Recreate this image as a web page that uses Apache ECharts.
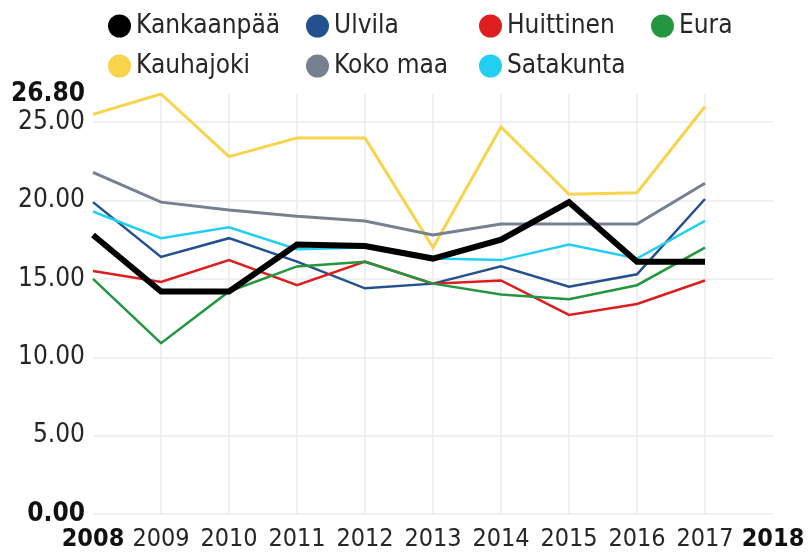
<!DOCTYPE html>
<html>
<head>
<meta charset="utf-8">
<script src="https://cdn.jsdelivr.net/npm/echarts@6/dist/echarts.min.js"></script>
<style>
  html, body { margin: 0; padding: 0; background: #fff; }
  #chart { width: 808px; height: 554px; }
</style>
</head>
<body>
<div id="chart"></div>
<script>
// Years on the horizontal axis
const years = [2008, 2009, 2010, 2011, 2012, 2013, 2014, 2015, 2016, 2017];

// Values per area
const kankaanpaa = [17.8, 14.2, 14.2, 17.2, 17.1, 16.3, 17.5, 19.9, 16.1, 16.1];
const ulvila     = [19.9, 16.4, 17.6, 16.1, 14.4, 14.7, 15.8, 14.5, 15.3, 20.1];
const huittinen  = [15.5, 14.8, 16.2, 14.6, 16.1, 14.7, 14.9, 12.7, 13.4, 14.9];
const eura       = [15.0, 10.9, 14.2, 15.8, 16.1, 14.7, 14.0, 13.7, 14.6, 17.0];
const kauhajoki  = [25.5, 26.8, 22.8, 24.0, 24.0, 17.0, 24.7, 20.4, 20.5, 26.0];
const kokoMaa    = [21.8, 19.9, 19.4, 19.0, 18.7, 17.8, 18.5, 18.5, 18.5, 21.1];
const satakunta  = [19.3, 17.6, 18.3, 16.9, 17.0, 16.3, 16.2, 17.2, 16.3, 18.7];

// Axis bounds and tick step
const xMin = 2008, xMax = 2018, xStep = 1;
const yMin = 0, yMax = 26.8, yStep = 5;

const FONT = '"DejaVu Sans Condensed", "DejaVu Sans", sans-serif';

const seriesDefs = [
  { name: 'Kankaanpää', data: kankaanpaa, color: '#000000', width: 6, z: 10 },
  { name: 'Ulvila',     data: ulvila,     color: '#24508f', width: 2.5, z: 5 },
  { name: 'Huittinen',  data: huittinen,  color: '#dc1e1e', width: 2.5, z: 5 },
  { name: 'Eura',       data: eura,       color: '#22973f', width: 2.5, z: 5 },
  { name: 'Kauhajoki',  data: kauhajoki,  color: '#f8d44c', width: 3, z: 5 },
  { name: 'Koko maa',   data: kokoMaa,    color: '#76808e', width: 3, z: 5 },
  { name: 'Satakunta',  data: satakunta,  color: '#22cff0', width: 2.5, z: 5 }
];

const legendText = { fontFamily: FONT, fontSize: 26, color: '#262626' };
function legendColumn(names, left) {
  return {
    data: names.map(n => ({ name: n, icon: 'circle' })),
    orient: 'vertical',
    left: left,
    top: 8,
    itemWidth: 23,
    itemHeight: 23,
    itemGap: 14,
    textStyle: legendText,
    selectedMode: false
  };
}

// Grid lines: hide the ones lying on the outer bounds
const vLineColors = [];
for (let y = xMin; y <= xMax; y += xStep) {
  vLineColors.push(y === xMin || y === xMax ? 'rgba(0,0,0,0)' : '#ebebeb');
}
const hLineColors = ['#ebebeb', '#ebebeb', '#ebebeb', '#ebebeb', '#ebebeb', '#ebebeb', 'rgba(0,0,0,0)'];

const option = {
  animation: false,
  backgroundColor: '#ffffff',
  legend: [
    legendColumn(['Kankaanpää', 'Kauhajoki'], 103),
    legendColumn(['Ulvila', 'Koko maa'], 301),
    legendColumn(['Huittinen', 'Satakunta'], 474),
    legendColumn(['Eura'], 646)
  ],
  grid: { left: 93, right: 35, top: 94, bottom: 40, containLabel: false },
  xAxis: {
    type: 'value',
    min: xMin, max: xMax, interval: xStep,
    axisLine: { show: false },
    axisTick: { show: false },
    splitLine: { show: true, lineStyle: { color: vLineColors, width: 1.5 } },
    axisLabel: {
      margin: 13,
      fontFamily: FONT, fontSize: 25, color: '#262626',
      formatter: v => (v === xMin || v === xMax) ? '{b|' + v + '}' : String(v),
      rich: { b: { fontFamily: FONT, fontSize: 25, fontWeight: 'bold', color: '#111' } }
    }
  },
  yAxis: {
    type: 'value',
    min: yMin, max: yMax, interval: yStep,
    axisLine: { show: false },
    axisTick: { show: false },
    splitLine: { show: true, lineStyle: { color: hLineColors, width: 1.5 } },
    axisLabel: {
      margin: 8,
      fontFamily: FONT, fontSize: 26, color: '#262626',
      formatter: v => (v === yMin || v === yMax) ? '{b|' + v.toFixed(2) + '}' : v.toFixed(2),
      rich: { b: { fontFamily: FONT, fontSize: 26, fontWeight: 'bold', color: '#111' } }
    }
  },
  series: seriesDefs.map(s => ({
    name: s.name,
    type: 'line',
    data: years.map((y, i) => [y, s.data[i]]),
    showSymbol: false,
    symbol: 'circle',
    z: s.z,
    color: s.color,
    lineStyle: { color: s.color, width: s.width, join: 'miter' },
    emphasis: { disabled: true }
  }))
};

const chart = echarts.init(document.getElementById('chart'), null, { renderer: 'canvas' });
chart.setOption(option);
</script>
</body>
</html>
